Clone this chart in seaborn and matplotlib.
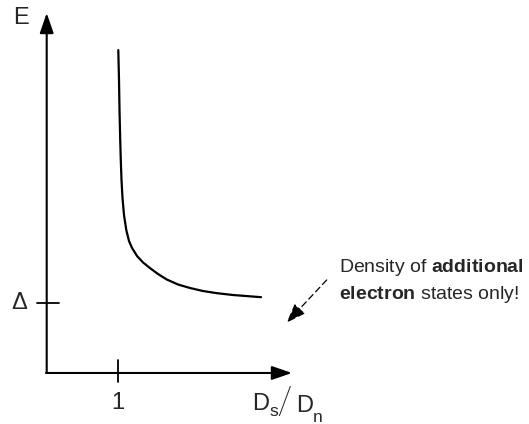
import matplotlib
matplotlib.use("Agg")
import matplotlib.pyplot as plt
from matplotlib import font_manager
import seaborn as sns
import pandas as pd

# ---- data ----
ratio_ds_dn = [1.004, 1.014, 1.021, 1.031, 1.039, 1.049, 1.063, 1.084,
               1.116, 1.154, 1.197, 1.267, 1.351, 1.456, 1.561, 1.683,
               1.842, 2.010, 2.192, 2.388, 2.613, 3.006]
energy_over_gap = [4.614, 4.186, 3.757, 3.329, 3.043, 2.757, 2.500, 2.257,
                   2.043, 1.886, 1.786, 1.671, 1.579, 1.493, 1.414, 1.336,
                   1.264, 1.214, 1.171, 1.140, 1.114, 1.083]
x_tick_values = [1]
x_tick_labels = ["1"]
y_tick_values = [1]
y_tick_labels = ["Δ"]

sns.set_theme(style="white")
names = {f.name for f in font_manager.fontManager.ttflist}
main_font = "Liberation Sans" if "Liberation Sans" in names else "DejaVu Sans"
thin_font = "Roboto" if "Roboto" in names else main_font
plt.rcParams["font.family"] = [main_font, "DejaVu Sans"]
plt.rcParams["mathtext.fontset"] = "custom"
plt.rcParams["mathtext.rm"] = main_font
plt.rcParams["mathtext.bf"] = main_font + ":bold"

df = pd.DataFrame({"ratio": ratio_ds_dn, "E": energy_over_gap})

fig = plt.figure(figsize=(5.29, 4.24), dpi=100)
ax = fig.add_axes([0, 0, 1, 1])
ax.set_xlim(-0.655, 6.764)
ax.set_ylim(-0.729, 5.329)
ax.axis("off")

sns.lineplot(data=df, x="ratio", y="E", ax=ax, color="black", lw=1.6, sort=True)

# axes with arrow heads
arrow_style = "-|>,head_length=0.61,head_width=0.21"
ax.annotate("", xy=(0, 5.143), xytext=(0, 0),
            arrowprops=dict(arrowstyle=arrow_style, color="black", lw=1.5,
                            shrinkA=0, shrinkB=0, mutation_scale=20))
ax.annotate("", xy=(3.44, 0), xytext=(-0.01, 0),
            arrowprops=dict(arrowstyle=arrow_style, color="black", lw=1.5,
                            shrinkA=0, shrinkB=0, mutation_scale=20))

# ticks
for xv, lab in zip(x_tick_values, x_tick_labels):
    ax.plot([xv, xv], [-0.124, 0.186], color="black", lw=1.3)
    ax.text(xv, -0.43, lab, ha="center", va="center", fontsize=17)
for yv, lab in zip(y_tick_values, y_tick_labels):
    ax.plot([-0.14, 0.168], [yv, yv], color="black", lw=1.3)
    ax.text(-0.391, yv, lab, ha="center", va="center", fontsize=17)

# axis labels
ax.text(-0.36, 5.07, "E", ha="center", va="center", fontsize=17)
ax.text(2.88, -0.529, "D", ha="left", va="baseline", fontsize=17)
ax.text(3.125, -0.614, "s", ha="left", va="baseline", fontsize=12.5)
ax.text(3.33, -0.43, "/", ha="center", va="center", fontsize=27,
        family=thin_font, fontweight="light")
ax.text(3.50, -0.557, "D", ha="left", va="baseline", fontsize=17)
ax.text(3.735, -0.70, "n", ha="left", va="baseline", fontsize=12.5)

# annotation
ax.text(4.10, 1.443, r"Density of $\bf{additional}$", ha="left", va="baseline",
        fontsize=14)
ax.text(4.10, 1.057, r"$\bf{electron}$ states only!", ha="left", va="baseline",
        fontsize=14)
ax.annotate("", xy=(3.366, 0.719), xytext=(3.927, 1.329),
            arrowprops=dict(arrowstyle="-|>,head_length=0.6,head_width=0.22",
                            color="black", lw=0.9, ls=(0, (5, 3)),
                            shrinkA=0, shrinkB=0, mutation_scale=20))

fig.savefig("out.png", dpi=100)
